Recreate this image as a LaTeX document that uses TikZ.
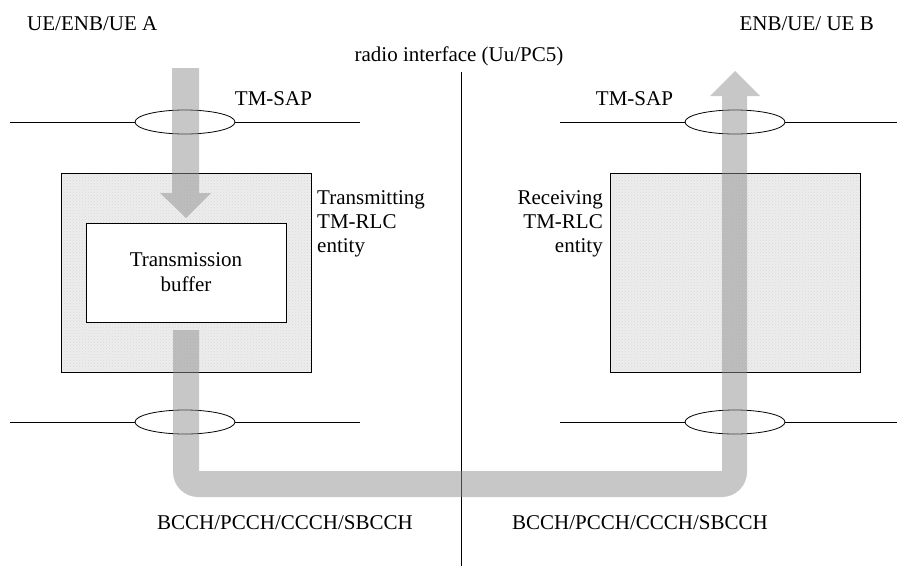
\documentclass[tikz,border=0pt]{standalone}
\usepackage{fontspec}
\setmainfont{Liberation Serif}
\newfontfamily\timesfont{Liberation Serif}
\usetikzlibrary{shapes.geometric, positioning, patterns}

\tikzset{
    entity/.style={draw, line width=0.9pt, preaction={fill=black!7}, pattern=crosshatch dots, pattern color=black!15, minimum width=250pt, minimum height=199pt, inner sep=0pt},
    buffer/.style={draw, line width=0.9pt, fill=white, align=center, minimum width=200pt, minimum height=99pt, inner sep=0pt, font=\timesfont\fontsize{21}{25}\selectfont},
    sap/.style={draw, ellipse, line width=0.8pt, minimum width=100pt, minimum height=24pt, inner sep=0pt},
    flow/.style={fill=black!44, fill opacity=0.5},
    lbl/.style={inner sep=0pt, font=\timesfont\fontsize{21}{24}\selectfont},
}

\begin{document}
\begin{tikzpicture}[x=1pt, y=-1pt]
    \useasboundingbox (0,0) rectangle (897,566);

    % Peers and radio interface
    \node[lbl, anchor=base west] (ueA) at (27,30) {UE/ENB/UE A};
    \node[lbl, anchor=base east] (ueB) at (874,30) {ENB/UE/ UE B};
    \node[lbl, anchor=base] (radio) at (459,61) {radio interface (Uu/PC5)};
    \coordinate (airTop) at (461,72);
    \coordinate (airBot) at (461,566);
    \draw[line width=0.9pt] (airTop) -- (airBot);

    % Upper SAP lines
    \node[sap] (sapTxTop) at (185,122) {};
    \node[sap] (sapRxTop) at (735,122) {};
    \coordinate (txTopL) at (10,122);
    \coordinate (txTopR) at (360,122);
    \coordinate (rxTopL) at (560,122);
    \coordinate (rxTopR) at (897,122);
    \draw[line width=0.8pt] (txTopL) -- (sapTxTop.west) (sapTxTop.east) -- (txTopR);
    \draw[line width=0.8pt] (rxTopL) -- (sapRxTop.west) (sapRxTop.east) -- (rxTopR);
    \node[lbl, anchor=base] (tmSapTx) at (273.5,105) {TM-SAP};
    \node[lbl, anchor=base] (tmSapRx) at (634.5,105) {TM-SAP};

    % Lower SAP lines
    \node[sap] (sapTxBot) at (185,422) {};
    \node[sap] (sapRxBot) at (735,422) {};
    \coordinate (txBotL) at (10,422);
    \coordinate (txBotR) at (360,422);
    \coordinate (rxBotL) at (560,422);
    \coordinate (rxBotR) at (897,422);
    \draw[line width=0.8pt] (txBotL) -- (sapTxBot.west) (sapTxBot.east) -- (txBotR);
    \draw[line width=0.8pt] (rxBotL) -- (sapRxBot.west) (sapRxBot.east) -- (rxBotR);

    % RLC entities
    \node[entity] (txEntity) at (186,272.5) {};
    \node[entity] (rxEntity) at (735,272.5) {};
    \node[buffer] (txBuffer) at (186,272.5) {Transmission\\buffer};
    \node[lbl, align=left, anchor=base west] (txLabel) at (317,252) {Transmitting\\TM-RLC\\entity};
    \node[lbl, align=right, anchor=base east] (rxLabel) at (603,252) {Receiving\\TM-RLC\\entity};

    % Logical channels
    \node[lbl, anchor=base] (chTx) at (285,529) {BCCH/PCCH/CCCH/SBCCH};
    \node[lbl, anchor=base] (chRx) at (640,529) {BCCH/PCCH/CCCH/SBCCH};

    % Data flow
    \fill[flow] (172,68) -- (199,68) -- (199,193) -- (211,193) -- (186,218) -- (160,193) -- (172,193) -- cycle;
    \fill[flow] (173,330) -- (173,472) arc (180:90:25) -- (722,497) arc (90:0:25)
        -- (747,96) -- (760,96) -- (735,71) -- (710,96) -- (722,96) -- (722,471)
        -- (199,471) -- (199,330) -- cycle;
\end{tikzpicture}
\end{document}
